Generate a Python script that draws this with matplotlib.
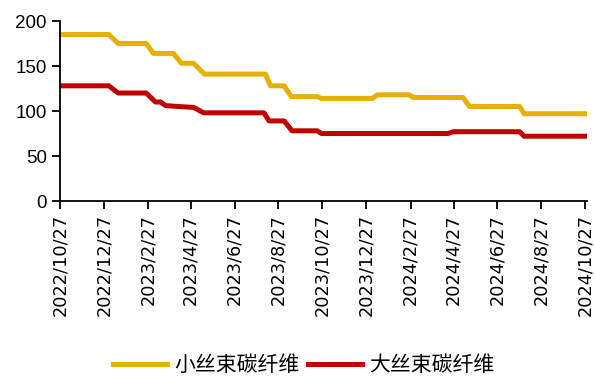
import numpy as np
import matplotlib
matplotlib.use("Agg")
import matplotlib.pyplot as plt
import matplotlib.dates as mdates

plt.rcParams['font.family'] = ['Noto Sans CJK SC', 'DejaVu Sans']

# Small-tow carbon fibre price (change points)
small_dates = ["2022-10-27", "2023-01-03", "2023-01-16", "2023-02-24", "2023-03-06",
               "2023-04-03", "2023-04-14", "2023-05-01", "2023-05-16", "2023-08-09",
               "2023-08-16", "2023-09-04", "2023-09-14", "2023-10-20", "2023-10-26",
               "2024-01-05", "2024-01-12", "2024-02-25", "2024-03-02", "2024-05-10",
               "2024-05-19", "2024-07-28", "2024-08-03", "2024-10-27"]
small_values = [185, 185, 175, 175, 164,
                164, 153, 153, 141, 141,
                128, 128, 116, 116, 114,
                114, 118, 118, 115, 115,
                105, 105, 97, 97]

# Large-tow carbon fibre price (change points)
large_dates = ["2022-10-27", "2023-01-03", "2023-01-16", "2023-02-24", "2023-03-09",
               "2023-03-16", "2023-03-23", "2023-04-10", "2023-05-01", "2023-05-15",
               "2023-08-07", "2023-08-14", "2023-09-04", "2023-09-15", "2023-10-20",
               "2023-10-26", "2024-04-19", "2024-04-26", "2024-07-28", "2024-08-03",
               "2024-10-27"]
large_values = [128, 128, 120, 120, 110,
                110, 106, 105, 104, 98,
                98, 89, 89, 78, 78,
                75, 75, 77, 77, 72,
                72]

tick_dates = ["2022-10-27", "2022-12-27", "2023-02-27", "2023-04-27", "2023-06-27",
              "2023-08-27", "2023-10-27", "2023-12-27", "2024-02-27", "2024-04-27",
              "2024-06-27", "2024-08-27", "2024-10-27"]
tick_labels = ["2022/10/27", "2022/12/27", "2023/2/27", "2023/4/27", "2023/6/27",
               "2023/8/27", "2023/10/27", "2023/12/27", "2024/2/27", "2024/4/27",
               "2024/6/27", "2024/8/27", "2024/10/27"]

series_names = ["小丝束碳纤维", "大丝束碳纤维"]
gold = "#E6B000"
red = "#C00000"

fig = plt.figure(figsize=(5.95, 3.76), dpi=100)
ax = fig.add_axes([0.1008, 0.4654, 0.885, 0.4787])

ax.plot(np.array(small_dates, dtype="datetime64[D]"), small_values,
        color=gold, lw=3.6, solid_joinstyle="round", label=series_names[0])
ax.plot(np.array(large_dates, dtype="datetime64[D]"), large_values,
        color=red, lw=3.6, solid_joinstyle="round", label=series_names[1])

ax.set_xlim(np.datetime64("2022-10-27"), np.datetime64("2024-10-29"))
ax.set_ylim(0, 200)
ax.set_yticks([0, 50, 100, 150, 200])
ax.set_xticks(mdates.date2num(np.array(tick_dates, dtype="datetime64[D]")))
ax.set_xticklabels(tick_labels, rotation=90, family="DejaVu Sans", fontsize=12.8)
for lab in ax.get_yticklabels():
    lab.set_family("Liberation Sans")
    lab.set_fontsize(13.5)

for s in ["top", "right"]:
    ax.spines[s].set_visible(False)
for s in ["left", "bottom"]:
    ax.spines[s].set_linewidth(1.3)
    ax.spines[s].set_color("black")
ax.tick_params(axis="both", direction="out", length=6, width=1.3, color="black")
ax.tick_params(axis="x", pad=3.5)
ax.tick_params(axis="y", pad=3.5)

fig.legend(loc="center", bbox_to_anchor=(0.51, 0.028), ncol=2, frameon=False,
           handlelength=2.6, handletextpad=0.35, columnspacing=0.4,
           borderpad=0, prop={"family": ["Noto Sans CJK SC", "DejaVu Sans"], "size": 15})

fig.savefig("out.png", dpi=100)
